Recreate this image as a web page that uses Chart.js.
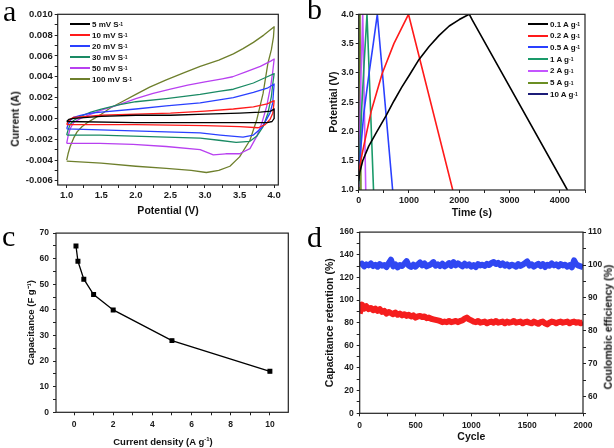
<!DOCTYPE html>
<html>
<head>
<meta charset="utf-8">
<script src="https://cdn.jsdelivr.net/npm/chart.js@4.4.1/dist/chart.umd.min.js"></script>
<style>
html,body{margin:0;padding:0;background:#fff;}
body{width:614px;height:448px;position:relative;overflow:hidden;font-family:"Liberation Sans",Arial,sans-serif;}
canvas{position:absolute;}
.letter{position:absolute;font-family:"Liberation Serif","DejaVu Serif",serif;font-size:30px;line-height:1;color:#000;}
.legend{position:absolute;font-weight:bold;font-size:8px;color:#111;}
.legend .row{position:absolute;left:0;height:10px;white-space:nowrap;display:flex;align-items:center;}
.legend .sw{display:inline-block;width:20px;height:2px;margin-right:2px;}
.legend sup{font-size:5px;vertical-align:4px;}
.rtitle{position:absolute;font-weight:bold;font-size:10.5px;line-height:1;color:#111;white-space:nowrap;transform:translate(-50%,-50%) rotate(-90deg);}
.htitle{position:absolute;font-weight:bold;font-size:9.5px;line-height:1;color:#111;white-space:nowrap;transform:translate(-50%,-50%);}
.htitle sup{font-size:6px;vertical-align:4px;}
</style>
</head>
<body>
<canvas id="ca" width="307" height="224" style="left:0;top:0"></canvas>
<canvas id="cb" width="307" height="224" style="left:307px;top:0"></canvas>
<canvas id="cc" width="307" height="224" style="left:0;top:224px"></canvas>
<canvas id="cd" width="307" height="224" style="left:307px;top:224px"></canvas>
<div class="letter" style="left:3px;top:-4px">a</div>
<div class="letter" style="left:307px;top:-6px">b</div>
<div class="letter" style="left:2px;top:221px">c</div>
<div class="letter" style="left:307px;top:222px">d</div>
<div id="legA" class="legend" style="left:70px;top:19px"></div>
<div id="legB" class="legend" style="left:528px;top:19px"></div>
<div class="rtitle" style="left:15px;top:119px">Current (A)</div>
<div class="htitle" style="left:163px;top:441px">Current density (A g<sup>-1</sup>)</div>
<div class="rtitle" style="left:608px;top:327px">Coulombic efficiency (%)</div>
<script>
// ---------- Panel a: CV curves (potential V, current A) ----------
const cvLabels = ['5 mV S', '10 mV S', '20 mV S', '30 mV S', '50 mV S', '100 mV S'];
const cv5_V   = [1.00,1.03,1.10,1.30,1.50,2.00,2.50,3.00,3.50,3.80,3.95,4.00, 4.00,3.97,3.90,3.00,2.00,1.00];
const cv5_I   = [-0.0003,-0.0001,0.0000,0.0001,0.0002,0.0003,0.0003,0.0004,0.0005,0.0006,0.0007,0.0009, 0.0000,-0.0003,-0.0004,-0.0004,-0.0004,-0.0003];
const cv10_V  = [1.00,1.02,1.05,1.10,1.30,1.50,2.00,2.50,3.00,3.41,3.70,3.90,4.00, 3.99,3.98,3.94,3.87,3.77,3.50,3.00,2.00,1.00];
const cv10_I  = [-0.0006,-0.0003,-0.0001,0.0001,0.0002,0.0003,0.0004,0.0005,0.0007,0.0009,0.0011,0.0014,0.0017, 0.0010,0.0005,-0.0001,-0.0006,-0.0009,-0.0008,-0.0007,-0.0006,-0.0006];
const cv20_V  = [1.00,1.02,1.05,1.10,1.20,1.35,1.50,2.00,2.44,2.93,3.41,3.70,3.90,4.00, 3.99,3.98,3.94,3.89,3.82,3.70,3.55,3.22,2.93,2.44,1.96,1.48,1.00];
const cv20_I  = [-0.0010,-0.0006,-0.0002,0.0001,0.0003,0.0005,0.0006,0.0009,0.0012,0.0015,0.0020,0.0025,0.0029,0.0033, 0.0025,0.0015,0.0005,-0.0001,-0.0009,-0.0016,-0.0018,-0.0016,-0.0014,-0.0013,-0.0012,-0.0011,-0.0010];
const cv30_V  = [1.00,1.02,1.05,1.10,1.20,1.35,1.50,1.75,2.00,2.44,2.93,3.20,3.41,3.70,3.90,4.00, 3.98,3.96,3.91,3.84,3.75,3.65,3.45,3.20,2.93,2.44,1.96,1.48,1.00];
const cv30_I  = [-0.0016,-0.0011,-0.0006,-0.0002,0.0002,0.0006,0.0009,0.0013,0.0016,0.0019,0.0023,0.0026,0.0028,0.0034,0.0040,0.0043, 0.0033,0.0021,0.0005,-0.0008,-0.0017,-0.0022,-0.0023,-0.0021,-0.0019,-0.0018,-0.0017,-0.0016,-0.0016];
const cv50_V  = [1.00,1.02,1.05,1.10,1.20,1.35,1.50,1.75,2.00,2.25,2.50,2.75,3.00,3.25,3.40,3.60,3.80,3.95,4.00, 3.98,3.95,3.89,3.82,3.75,3.65,3.50,3.30,3.12,2.93,2.44,1.96,1.48,1.00];
const cv50_I  = [-0.0024,-0.0017,-0.0010,-0.0004,0.0000,0.0004,0.0008,0.0013,0.0019,0.0024,0.0028,0.0032,0.0035,0.0038,0.0040,0.0045,0.0050,0.0055,0.0057, 0.0045,0.0031,0.0011,-0.0005,-0.0017,-0.0029,-0.0034,-0.0034,-0.0035,-0.0030,-0.0027,-0.0025,-0.0024,-0.0024];
const cv100_V = [1.00,1.02,1.05,1.10,1.15,1.22,1.30,1.40,1.50,1.63,1.80,2.00,2.20,2.44,2.70,2.93,3.20,3.41,3.55,3.70,3.85,4.00, 3.99,3.96,3.91,3.84,3.75,3.65,3.50,3.36,3.20,3.02,2.80,2.44,2.00,1.50,1.00];
const cv100_I = [-0.0040,-0.0034,-0.0027,-0.0019,-0.0013,-0.0008,-0.0004,0.0000,0.0004,0.0010,0.0016,0.0023,0.0030,0.0037,0.0044,0.0050,0.0056,0.0062,0.0067,0.0073,0.0080,0.0088, 0.0078,0.0066,0.0053,0.0024,-0.0001,-0.0021,-0.0037,-0.0046,-0.0050,-0.0052,-0.0050,-0.0048,-0.0046,-0.0043,-0.0041];
const cvColors = ['#000000','#ff1a1a','#2a40ff','#1a8a64','#b840f0','#6e7f2c'];

// ---------- Panel b: GCD curves (time s, potential V) ----------
const gcdLabels = ['0.1 A g', '0.2 A g', '0.5 A g', '1 A g', '2 A g', '5 A g', '10 A g'];
const gcd01_t = [0,20,80,200,350,545,700,860,1000,1200,1400,1600,1800,2000,2150,2200,2260,4150];
const gcd01_V = [1.15,1.30,1.50,1.75,1.98,2.27,2.52,2.76,2.95,3.23,3.45,3.64,3.80,3.91,3.98,4.00,3.90,1.00];
const gcd02_t = [0,30,100,250,467,700,990,1870];
const gcd02_V = [1.25,1.45,1.75,2.35,2.99,3.50,4.00,1.00];
const gcd05_t = [0,30,100,207,290,370,675];
const gcd05_V = [1.20,1.60,2.30,3.00,3.50,4.00,1.00];
const gcd1_t  = [0,20,60,110,165,295];
const gcd1_V  = [1.10,1.60,2.40,3.20,4.00,1.00];
const gcd2_t  = [0,10,40,80,140];
const gcd2_V  = [1.05,1.60,2.80,4.00,1.00];
const gcd5_t  = [0,5,25,45];
const gcd5_V  = [1.00,1.70,4.00,1.00];
const gcd10_t = [0,8,14];
const gcd10_V = [1.00,4.00,1.00];
const gcdColors = ['#000000','#ff1a1a','#2a40ff','#1a9a6a','#c455ff','#6b8e23','#1c1c78'];

// ---------- Panel c: rate capability ----------
const currentDensity = [0.1,0.2,0.5,1,2,5,10];
const capacitance    = [65,59,52,46,40,28,16];

// ---------- Panel d: cycling ----------
const cycles = [0,20,40,60,80,100,120,140,160,180,200,220,240,260,280,300,320,340,360,380,400,420,440,460,480,500,520,540,560,580,600,620,640,660,680,700,720,740,760,780,800,820,840,860,880,900,920,940,960,980,1000,1020,1040,1060,1080,1100,1120,1140,1160,1180,1200,1220,1240,1260,1280,1300,1320,1340,1360,1380,1400,1420,1440,1460,1480,1500,1520,1540,1560,1580,1600,1620,1640,1660,1680,1700,1720,1740,1760,1780,1800,1820,1840,1860,1880,1900,1920,1940,1960,1980,2000];
const retention = [88,96,92.5,94.5,92,93,91,92.5,90.5,92,89.5,90.5,88,89.5,88.5,87.5,89,87,88,86.5,87.5,86,87,85.5,86.5,84.5,85.5,86,85,85.5,84,84.5,83.5,83,82.5,82,81.5,80.5,81,80.5,81.5,80.5,81,81.5,80.5,81.5,82,83.5,84.5,83,82,81,80.5,81.5,80,80.5,81,79.5,80.5,81,80,81.5,80,80.5,81,79.5,81,80,80.5,81.5,80,80.5,81,79.5,80.5,81,80,79.5,81,80,79,80.5,81,79.5,78.5,80,81,80.5,79.5,80.5,81,80,80.5,81,79.5,80.5,81,80,80.5,79.5,80.5];
const coulombic = [99.8,100.4,99.6,100.2,99.9,100.5,99.7,100.1,99.5,100.3,99.8,100.0,99.4,100.6,101.6,99.6,100.2,99.3,100.0,99.7,100.4,101.2,99.8,99.4,100.1,99.5,100.2,100.8,99.9,100.5,99.6,99.9,100.3,100.9,99.8,100.2,99.7,100.4,99.6,100.0,100.6,99.8,100.9,99.9,100.5,100.1,99.6,100.4,99.8,100.2,99.5,100.0,99.4,100.3,99.9,100.1,99.7,100.4,100.0,100.6,100.9,100.3,100.7,100.0,100.5,99.8,100.2,99.6,100.1,99.9,99.5,100.3,99.7,100.1,100.6,101.1,99.8,100.2,99.5,100.0,100.4,99.7,100.3,99.4,100.1,99.8,100.5,99.9,100.2,99.6,100.3,99.9,100.1,99.5,100.0,99.3,101.4,100.2,99.8,99.6,99.4];

// ---------- helpers ----------
const FAM = '"Liberation Sans", Arial, sans-serif';
const pts = (xs, ys) => xs.map((x, i) => ({x: x, y: ys[i]}));
const isMajor = (v, m) => Math.abs(v / m - Math.round(v / m)) < 1e-6;

function axis(o) {
  return {
    type: 'linear', position: o.position, min: o.min, max: o.max,
    border: {display: false},
    grid: {display: true, drawOnChartArea: false, drawTicks: true, tickLength: 3, tickColor: '#222', tickWidth: 1},
    ticks: {
      stepSize: o.step, includeBounds: false, autoSkip: false, maxRotation: 0, minRotation: 0,
      color: '#1a1a1a', padding: o.tickPad, font: {family: FAM, size: o.tickSize, weight: 'bold'},
      callback: (v) => isMajor(v, o.major) ? o.fmt(v) : ''
    },
    title: {display: !!o.title, text: o.title, color: '#111', font: {family: FAM, size: o.titleSize, weight: 'bold', lineHeight: 1.2}, padding: o.titlePad},
    afterFit: (s) => { if (o.w !== undefined) s.width = o.w; if (o.h !== undefined) s.height = o.h; }
  };
}

const framePlugin = {
  id: 'frame',
  afterDraw(chart) {
    const a = chart.chartArea, ctx = chart.ctx;
    ctx.save();
    ctx.strokeStyle = '#222';
    ctx.lineWidth = 1.2;
    ctx.strokeRect(a.left, a.top, a.right - a.left, a.bottom - a.top);
    ctx.restore();
  }
};

const baseOpts = (padding, scales) => ({
  responsive: false, animation: false, devicePixelRatio: 1,
  layout: {padding: padding},
  plugins: {legend: {display: false}, tooltip: {enabled: false}},
  scales: scales
});

// ---------- chart a ----------
const cvV = [cv5_V, cv10_V, cv20_V, cv30_V, cv50_V, cv100_V];
const cvI = [cv5_I, cv10_I, cv20_I, cv30_I, cv50_I, cv100_I];
new Chart(document.getElementById('ca'), {
  type: 'scatter',
  data: {datasets: cvLabels.map((l, i) => ({
    label: l, data: pts(cvV[i], cvI[i]), showLine: true, borderColor: cvColors[i], backgroundColor: cvColors[i],
    borderWidth: 1.3, pointRadius: 0, tension: 0, borderJoinStyle: 'round'
  }))},
  options: baseOpts({left: 0, top: 14.3, right: 28.7, bottom: 0}, {
    x: axis({position: 'bottom', min: 0.87, max: 4.06, step: 0.25, major: 0.5, fmt: v => v.toFixed(1), tickSize: 9.5, tickPad: 2,
      title: 'Potential (V)', titleSize: 10.5, titlePad: {top: 0, bottom: 7}, h: 39}),
    y: axis({position: 'left', min: -0.0064, max: 0.010, step: 0.001, major: 0.002, fmt: v => v.toFixed(3), tickSize: 9.5, tickPad: 2,
      title: '', titleSize: 10.5, titlePad: 0, w: 57.7})
  }),
  plugins: [framePlugin]
});

// ---------- chart b ----------
const gT = [gcd01_t, gcd02_t, gcd05_t, gcd1_t, gcd2_t, gcd5_t, gcd10_t];
const gV = [gcd01_V, gcd02_V, gcd05_V, gcd1_V, gcd2_V, gcd5_V, gcd10_V];
new Chart(document.getElementById('cb'), {
  type: 'scatter',
  data: {datasets: gcdLabels.map((l, i) => ({
    label: l, data: pts(gT[i], gV[i]), showLine: true, borderColor: gcdColors[i], backgroundColor: gcdColors[i],
    borderWidth: 1.6, pointRadius: 0, tension: 0, borderJoinStyle: 'round'
  }))},
  options: baseOpts({left: 0, top: 14.3, right: 29, bottom: 0}, {
    x: axis({position: 'bottom', min: 0, max: 4500, step: 500, major: 1000, fmt: v => String(v), tickSize: 9, tickPad: 2,
      title: 'Time (s)', titleSize: 10.5, titlePad: {top: 0, bottom: 5}, h: 34}),
    y: axis({position: 'left', min: 1, max: 4, step: 0.25, major: 0.5, fmt: v => v.toFixed(1), tickSize: 9, tickPad: 2,
      title: 'Potential (V)', titleSize: 10.5, titlePad: {top: 20.4, bottom: 0}, w: 51.7})
  }),
  plugins: [framePlugin]
});

// ---------- chart c ----------
new Chart(document.getElementById('cc'), {
  type: 'scatter',
  data: {datasets: [{
    label: 'Capacitance', data: pts(currentDensity, capacitance), showLine: true,
    borderColor: '#000', backgroundColor: '#000', borderWidth: 1.3, pointStyle: 'rect', pointRadius: 2.6
  }]},
  options: baseOpts({left: 0, top: 6.7, right: 18.7, bottom: 0}, {
    x: axis({position: 'bottom', min: -0.92, max: 10.94, step: 1, major: 2, fmt: v => String(v), tickSize: 8.5, tickPad: 4,
      title: '', titleSize: 9.5, titlePad: 0, h: 35.7}),
    y: axis({position: 'left', min: 0, max: 70, step: 5, major: 10, fmt: v => String(v), tickSize: 8.5, tickPad: 4,
      title: 'Capacitance (F g\u207B\u00B9)', titleSize: 9.5, titlePad: {top: 25.3, bottom: 0}, w: 56})
  }),
  plugins: [framePlugin]
});

// ---------- chart d ----------
new Chart(document.getElementById('cd'), {
  type: 'scatter',
  data: {datasets: [
    {label: 'Capacitance retention', data: pts(cycles, retention), yAxisID: 'y', showLine: true,
     borderColor: '#f51e1e', backgroundColor: '#f51e1e', borderWidth: 6, pointRadius: 0, borderJoinStyle: 'round'},
    {label: 'Coulombic efficiency', data: pts(cycles, coulombic), yAxisID: 'y2', showLine: true,
     borderColor: '#3047f2', backgroundColor: '#3047f2', borderWidth: 6, pointRadius: 0, borderJoinStyle: 'round'}
  ]},
  options: baseOpts({left: 0, top: 7.3, right: 0, bottom: 0}, {
    x: axis({position: 'bottom', min: 0, max: 2000, step: 250, major: 500, fmt: v => String(v), tickSize: 8.5, tickPad: 4,
      title: 'Cycle', titleSize: 10.5, titlePad: {top: 0, bottom: 4.4}, h: 34.7}),
    y: axis({position: 'left', min: 0, max: 160, step: 10, major: 20, fmt: v => String(v), tickSize: 8.5, tickPad: 3,
      title: 'Capacitance retention (%)', titleSize: 10.5, titlePad: {top: 17, bottom: 0}, w: 52.7}),
    y2: axis({position: 'right', min: 55, max: 110, step: 5, major: 10, fmt: v => String(v), tickSize: 8.5, tickPad: 2,
      title: '', titleSize: 10.5, titlePad: 0, w: 31})
  }),
  plugins: [framePlugin]
});

// ---------- HTML legends ----------
function buildLegend(id, labels, colors, rowH) {
  const el = document.getElementById(id);
  labels.forEach((l, i) => {
    const r = document.createElement('div');
    r.className = 'row';
    r.style.top = (i * rowH) + 'px';
    r.innerHTML = '<span class="sw" style="background:' + colors[i] + '"></span>' + l + '<sup>-1</sup>';
    el.appendChild(r);
  });
}
buildLegend('legA', cvLabels, cvColors, 11);
buildLegend('legB', gcdLabels, gcdColors, 11.7);
</script>
</body>
</html>
